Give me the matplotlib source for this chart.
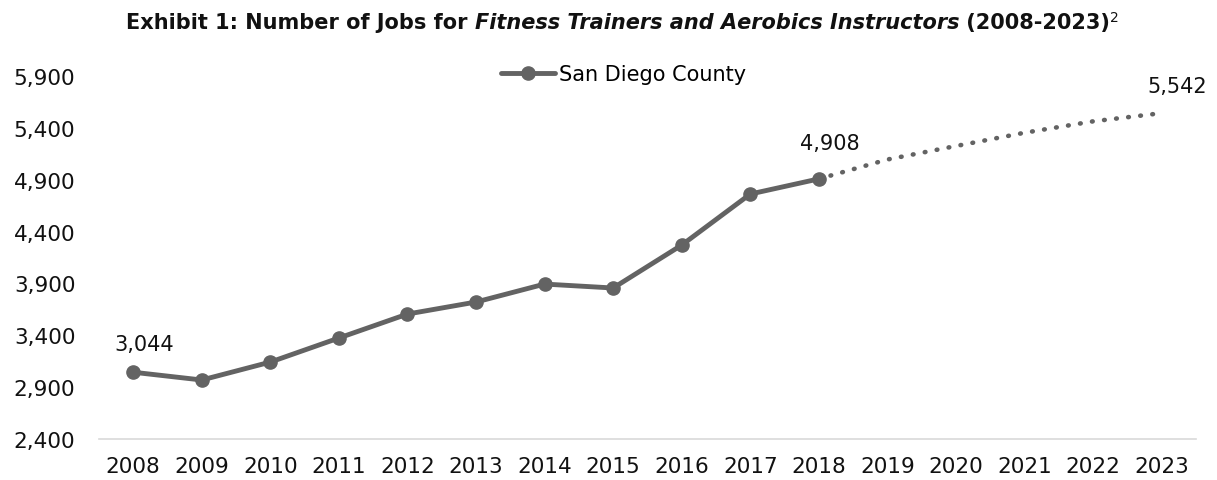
import numpy as np
import matplotlib
matplotlib.use('Agg')
import matplotlib.pyplot as plt

plt.rcParams['font.family'] = ['DejaVu Sans']

#
#   data
#
years = [str(y) for y in range(2008, 2024)]
hist_years = years[:11]
hist_jobs = [3044, 2969, 3142, 3374, 3605, 3721, 3894, 3856, 4270, 4762, 4908]
proj_years = years[10:]
proj_jobs = [4908, 5095, 5225, 5353, 5463, 5542]
y_ticks = [2400, 2900, 3400, 3900, 4400, 4900, 5400, 5900]

c_line = '#636363'
c_text = '#111111'

fig = plt.figure(figsize=(12.17, 4.81), dpi=100)
ax = fig.add_axes([0.0813, 0.0852, 0.9014, 0.7547])

x_all = np.arange(len(years))
x_hist = x_all[:len(hist_years)]
x_proj = x_all[len(hist_years) - 1:]

h1, = ax.plot(x_hist, hist_jobs, color=c_line, lw=3.5, marker='o', ms=9.5,
              solid_capstyle='round')
ax.plot(x_proj, proj_jobs, color=c_line, lw=3.3, ls=(0, (0.15, 2.5)),
        dash_capstyle='round')

# value labels (offsets in points)
for i, v, dx, dy in [(0, hist_jobs[0], 8, 13), (10, hist_jobs[10], 8, 19), (15, proj_jobs[-1], 11, 12)]:
    ax.annotate(f'{v:,}', (x_all[i], v), xytext=(dx, dy), textcoords='offset points',
                ha='center', va='bottom', fontsize=15, color=c_text)

ax.set_xlim(-0.5, len(years) - 0.5)
ax.set_ylim(2400, 5900)
ax.set_xticks(x_all)
ax.set_xticklabels(years, fontsize=15.5, color=c_text)
ax.set_yticks(y_ticks)
ax.set_yticklabels([f'{t:,}' for t in y_ticks], fontsize=15.5, color=c_text)
ax.tick_params(length=0)
ax.tick_params(axis='x', pad=12)
ax.tick_params(axis='y', pad=17)
for s in ['top', 'right', 'left']:
    ax.spines[s].set_visible(False)
ax.spines['bottom'].set_color('#d9d9d9')
ax.spines['bottom'].set_linewidth(1.2)

ax.legend([h1], ['San Diego County'], loc='center', bbox_to_anchor=(0.478, 1.005),
          frameon=False, fontsize=15, handlelength=2.6, handletextpad=0.2)

# title pieces side by side (bold, italic part, superscript)
r = fig.canvas.get_renderer()
parts = [('Exhibit 1: Number of Jobs for ', 'normal'),
         ('Fitness Trainers and Aerobics Instructors', 'italic'),
         (' (2008-2023)', 'normal')]
texts = []
for s, st in parts:
    t = fig.text(0, 0.952, s, fontsize=15, fontweight='bold', style=st, va='center', color=c_text)
    texts.append(t)
sup = fig.text(0, 0.962, '2', fontsize=10, va='center', color=c_text)
texts.append(sup)
widths = [t.get_window_extent(renderer=r).width for t in texts]
x0 = (1217 - sum(widths)) / 2 + 14
for t, w in zip(texts, widths):
    t.set_x(x0 / 1217)
    x0 += w

fig.savefig('out.png', dpi=100)
